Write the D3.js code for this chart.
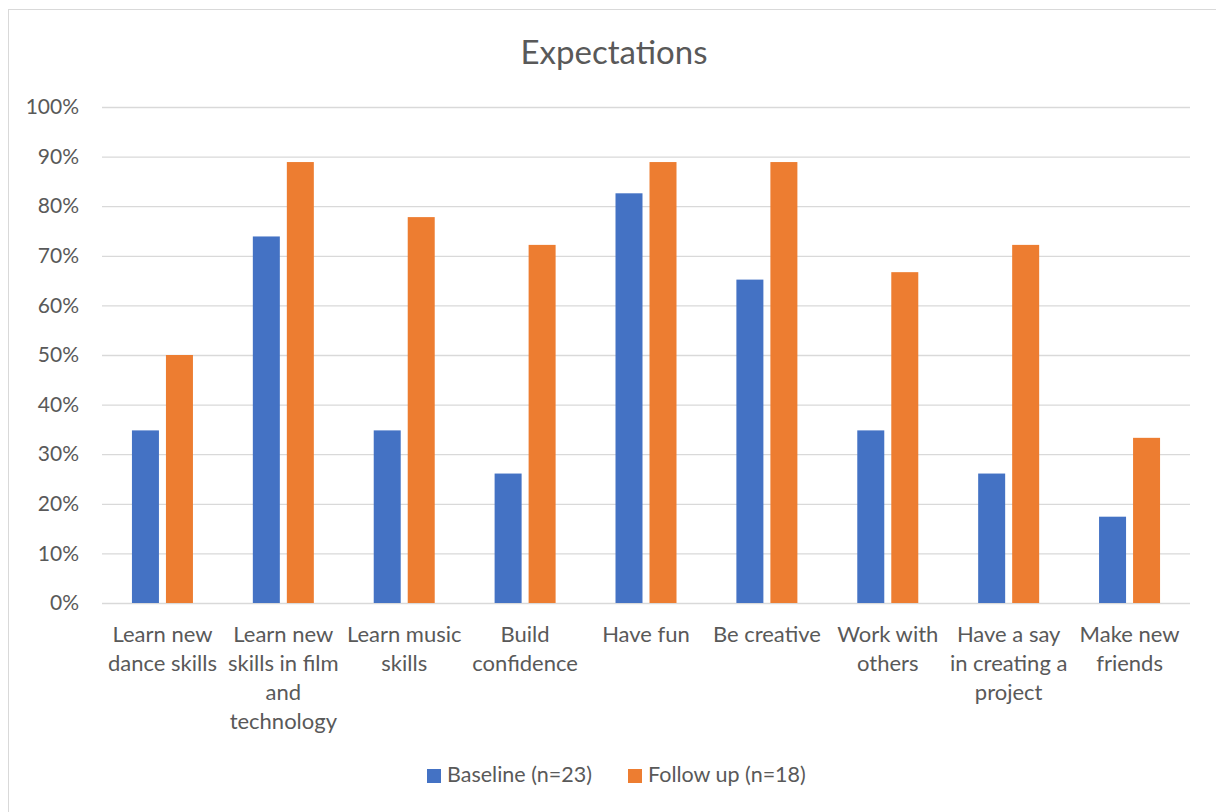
<!DOCTYPE html>
<html>
<head>
<meta charset="utf-8">
<script src="https://cdn.jsdelivr.net/npm/d3@7"></script>
<style>
  html, body { margin: 0; padding: 0; background: #fff; }
  svg { display: block; }
</style>
</head>
<body>
<svg id="chart" width="1216" height="812"></svg>
<script>
const categories = [
  ["Learn new", "dance skills"],
  ["Learn new", "skills in film", "and", "technology"],
  ["Learn music", "skills"],
  ["Build", "confidence"],
  ["Have fun"],
  ["Be creative"],
  ["Work with", "others"],
  ["Have a say", "in creating a", "project"],
  ["Make new", "friends"],
];
const seriesNames = ["Baseline (n=23)", "Follow up (n=18)"];
const baseline = [34.8, 73.9, 34.8, 26.1, 82.6, 65.2, 34.8, 26.1, 17.4];
const followUp = [50, 88.9, 77.8, 72.2, 88.9, 88.9, 66.7, 72.2, 33.3];
const yTicks = [0, 10, 20, 30, 40, 50, 60, 70, 80, 90, 100];

const colors = ["#4472c4", "#ed7d31"];
const font = "Lato, 'Open Sans', sans-serif";
const textColor = "#595959";

const d3 = window.d3;
const svg = d3.select("#chart");

// chart frame
svg.append("rect")
  .attr("x", 8.5).attr("y", 9.5)
  .attr("width", 1230).attr("height", 830)
  .attr("fill", "#fff").attr("stroke", "#d9d9d9");

svg.append("text")
  .attr("x", 614).attr("y", 64)
  .attr("text-anchor", "middle")
  .attr("font-family", font).attr("font-size", 33)
  .attr("fill", textColor)
  .text("Expectations");

const plot = { left: 102, right: 1190, top: 107, bottom: 603 };

const x0 = d3.scaleBand()
  .domain(categories.map((d, i) => i))
  .range([plot.left, plot.right])
  .padding(0);

const x1 = d3.scaleBand()
  .domain([0, 1])
  .range([-30.5, 30.5])
  .paddingInner(0.206);

const y = d3.scaleLinear().domain([0, 100]).range([plot.bottom, plot.top]);

const g = svg.append("g");

// gridlines + y labels
const yAxis = g.append("g")
  .attr("transform", `translate(${plot.left},0)`)
  .call(d3.axisLeft(y).tickValues(yTicks).tickSize(-(plot.right - plot.left)).tickFormat((d) => d + "%"));
yAxis.select(".domain").remove();
yAxis.selectAll(".tick line").attr("stroke", "#d9d9d9").attr("stroke-width", 1.3);
yAxis.selectAll(".tick text")
  .attr("x", -23)
  .attr("font-family", font).attr("font-size", 21)
  .attr("fill", textColor);

// bars
const series = [baseline, followUp];
series.forEach((vals, s) => {
  g.append("g").selectAll("rect")
    .data(vals)
    .enter()
    .append("rect")
    .attr("x", (d, i) => x0(i) + x0.bandwidth() / 2 + x1(s))
    .attr("y", (d) => y(d))
    .attr("width", x1.bandwidth())
    .attr("height", (d) => y(0) - y(d))
    .attr("fill", colors[s]);
});

// category labels
const xAxis = g.append("g");
categories.forEach((lines, i) => {
  const t = xAxis.append("text")
    .attr("text-anchor", "middle")
    .attr("font-family", font).attr("font-size", 22)
    .attr("fill", textColor);
  lines.forEach((line, k) => {
    t.append("tspan")
      .attr("x", x0(i) + x0.bandwidth() / 2)
      .attr("y", 642 + k * 29)
      .text(line);
  });
});

// legend
const legendItems = [
  { name: seriesNames[0], color: colors[0], x: 427 },
  { name: seriesNames[1], color: colors[1], x: 628 },
];
const legend = svg.append("g");
legendItems.forEach((it) => {
  legend.append("rect")
    .attr("x", it.x).attr("y", 769)
    .attr("width", 14).attr("height", 14)
    .attr("fill", it.color);
  legend.append("text")
    .attr("x", it.x + 20).attr("y", 782)
    .attr("font-family", font).attr("font-size", 21.5)
    .attr("fill", textColor)
    .text(it.name);
});
</script>
</body>
</html>
